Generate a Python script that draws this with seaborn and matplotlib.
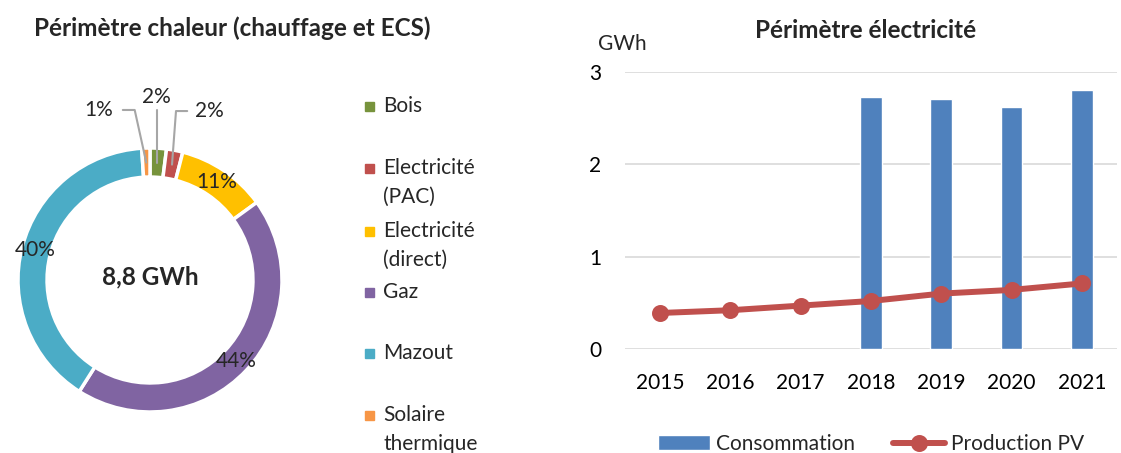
import numpy as np
import pandas as pd
import matplotlib.pyplot as plt
import seaborn as sns
from matplotlib.patches import Rectangle

# données
sources = ['Bois', 'Electricité\n(PAC)', 'Electricité\n(direct)', 'Gaz', 'Mazout', 'Solaire\nthermique']
parts = [2, 2, 11, 44, 40, 1]
couleurs = ['#77933C', '#C0504D', '#FFC000', '#8064A2', '#4BACC6', '#F79646']
total_chaleur = '8,8 GWh'

annees = ['2015', '2016', '2017', '2018', '2019', '2020', '2021']
consommation = [np.nan, np.nan, np.nan, 2.73, 2.71, 2.62, 2.80]
production_pv = [0.39, 0.42, 0.47, 0.52, 0.60, 0.64, 0.71]

sns.set_theme(style='white')
plt.rcParams['font.family'] = ['Lato', 'DejaVu Sans']
FS = 15
FS_T = 17.5   # titres en gras

W, H = 1121, 453
fig = plt.figure(figsize=(W / 100, H / 100), dpi=100)

# --- donut (périmètre chaleur) ---
cx, cy, R = 150, 280, 132   # centre et rayon en pixels
half = 150
axp = fig.add_axes([(cx - half) / W, (H - cy - half) / H, 2 * half / W, 2 * half / H])
axp.pie(parts, colors=couleurs, startangle=90, counterclock=False, radius=1,
        wedgeprops=dict(width=0.22, edgecolor='white', linewidth=2.5))
lim = half / R
axp.set_xlim(-lim, lim)
axp.set_ylim(-lim, lim)
axp.set_aspect('equal')
axp.axis('off')

cum = np.cumsum([0] + parts)
mid = 90 - 3.6 * (cum[:-1] + np.array(parts) / 2)   # angle milieu de chaque part
ang = np.deg2rad(mid)

# grandes étiquettes sur l'anneau
for i in [2, 3, 4]:
    axp.text(0.9 * np.cos(ang[i]), 0.9 * np.sin(ang[i]), f'{parts[i]}%',
             ha='center', va='center', fontsize=FS, clip_on=False)

# petites étiquettes avec lignes de rappel
gris = '#A6A6A6'
petites = {0: (0.045, 1.385), 1: (0.447, 1.28), 5: (-0.386, 1.288)}
for i, (lx, ly) in petites.items():
    axp.text(lx, ly, f'{parts[i]}%', ha='center', va='center', fontsize=FS, clip_on=False)
    ax_, ay_ = 0.89 * np.cos(ang[i]), 0.89 * np.sin(ang[i])
    if i == 0:
        xs, ys = [ax_, ax_], [ly - 0.1, ay_]
    elif i == 1:
        xs, ys = [lx - 0.165, lx - 0.25, ax_], [ly, ly, ay_]
    else:
        xs, ys = [lx + 0.18, lx + 0.27, ax_], [ly, ly, ay_]
    axp.plot(xs, ys, color=gris, lw=1.5, clip_on=False, zorder=5)

axp.text(0, 0.02, total_chaleur, ha='center', va='center', fontsize=FS_T, fontweight='bold')

fig.text(232 / W, 1 - 28 / H, 'Périmètre chaleur (chauffage et ECS)', ha='center', va='center',
         fontsize=FS_T, fontweight='bold')

# légende du donut
y_pos = [106, 168, 231, 292, 353, 415]
for lab, col, yp in zip(sources, couleurs, y_pos):
    fig.patches.append(Rectangle(((365) / W, 1 - (yp + 4.5) / H), 9 / W, 9 / H,
                                 transform=fig.transFigure, color=col))
    for k, ligne in enumerate(lab.split('\n')):
        fig.text(383 / W, 1 - (yp + 29 * k) / H, ligne, ha='left', va='center', fontsize=FS)

# --- barres + courbe (périmètre électricité) ---
ax = fig.add_axes([625 / W, (H - 349) / H, 492 / W, 277 / H])
df = pd.DataFrame({'annee': annees, 'Consommation': consommation, 'Production PV': production_pv})
sns.barplot(data=df, x='annee', y='Consommation', order=annees, color='#4F81BD', saturation=1,
            width=0.31, errorbar=None, ax=ax, label='Consommation', zorder=2)
sns.pointplot(data=df, x='annee', y='Production PV', order=annees, color='#C0504D',
              markers='o', markersize=9, linewidth=4.3, errorbar=None, ax=ax,
              label='Production PV', zorder=3)
ax.set_ylim(0, 3)
ax.set_xlim(-0.5, 6.5)
ax.set_yticks([0, 1, 2, 3])
ax.grid(axis='y', color='#D9D9D9', lw=1.2, zorder=0)
ax.set_axisbelow(True)
for s in ax.spines.values():
    s.set_visible(False)
ax.tick_params(axis='both', length=0, labelsize=FS, colors='black')
ax.tick_params(axis='y', pad=17)
ax.tick_params(axis='x', pad=17)
ax.set_xlabel('')
ax.set_ylabel('')

fig.text(622 / W, 1 - 44 / H, 'GWh', ha='center', va='center', fontsize=FS)
fig.text(866 / W, 1 - 30 / H, 'Périmètre électricité', ha='center', va='center',
         fontsize=FS_T, fontweight='bold')

handles, labels = ax.get_legend_handles_labels()
ordre = [labels.index('Consommation'), labels.index('Production PV')]
ax.legend([handles[i] for i in ordre], [labels[i] for i in ordre],
          loc='center', bbox_to_anchor=(871 / W, 1 - 444 / H), bbox_transform=fig.transFigure,
          ncol=2, frameon=False, fontsize=FS, handlelength=2.5, handletextpad=0.3,
          columnspacing=1.8, borderpad=0)

fig.savefig('out.png', dpi=100)
